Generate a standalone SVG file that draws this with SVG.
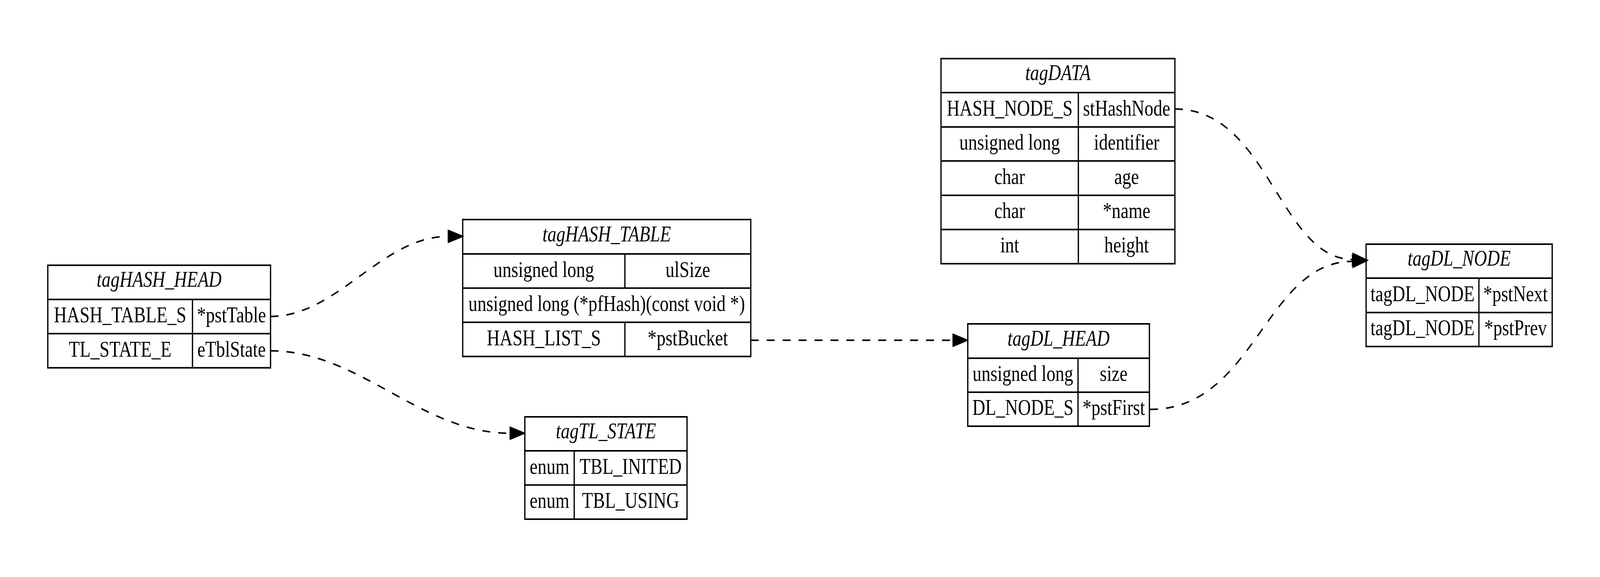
<svg xmlns="http://www.w3.org/2000/svg" width="5021" height="1477" viewBox="0 0 5021 1477" preserveAspectRatio="none">
<style>
svg{width:100vw;height:100vh}
.box{fill:none;stroke:#000;stroke-width:4}
.ln{stroke:#000;stroke-width:4}
text{font-family:"Liberation Serif","Times New Roman",serif;font-size:56px;fill:#000;text-anchor:middle}
.t{font-style:italic}
.edge{fill:none;stroke:#000;stroke-width:4;stroke-dasharray:25,25}
.ah{fill:#000;stroke:#000;stroke-width:4;stroke-linejoin:miter}
</style>
<rect width="5021" height="1477" fill="#fff"/>
<g id="tagHASH_HEAD">
<rect class="box" x="150" y="679" width="699" height="262.5"/>
<line class="ln" x1="150" y1="766.5" x2="849" y2="766.5"/>
<line class="ln" x1="150" y1="854" x2="849" y2="854"/>
<line class="ln" x1="604" y1="766.5" x2="604" y2="941.5"/>
<text class="t" x="499.5" y="734.5">tagHASH_HEAD</text>
<text x="377" y="825">HASH_TABLE_S</text>
<text x="726.5" y="825">*pstTable</text>
<text x="377" y="913">TL_STATE_E</text>
<text x="726.5" y="913">eTblState</text>
</g>
<g id="tagHASH_TABLE">
<rect class="box" x="1452" y="562" width="904" height="350.5"/>
<line class="ln" x1="1452" y1="650" x2="2356" y2="650"/>
<line class="ln" x1="1452" y1="737.5" x2="2356" y2="737.5"/>
<line class="ln" x1="1452" y1="825" x2="2356" y2="825"/>
<line class="ln" x1="1961" y1="650" x2="1961" y2="737.5"/>
<line class="ln" x1="1961" y1="825" x2="1961" y2="912.5"/>
<text class="t" x="1904" y="618">tagHASH_TABLE</text>
<text x="1706.5" y="709">unsigned long</text>
<text x="2158.5" y="709">ulSize</text>
<text x="1904" y="796">unsigned long (*pfHash)(const void *)</text>
<text x="1706.5" y="884">HASH_LIST_S</text>
<text x="2158.5" y="884">*pstBucket</text>
</g>
<g id="tagTL_STATE">
<rect class="box" x="1647" y="1067" width="509" height="262"/>
<line class="ln" x1="1647" y1="1154" x2="2156" y2="1154"/>
<line class="ln" x1="1647" y1="1241.5" x2="2156" y2="1241.5"/>
<line class="ln" x1="1802" y1="1154" x2="1802" y2="1329"/>
<text class="t" x="1901.5" y="1122.5">tagTL_STATE</text>
<text x="1724.5" y="1213">enum</text>
<text x="1979" y="1213">TBL_INITED</text>
<text x="1724.5" y="1300">enum</text>
<text x="1979" y="1300">TBL_USING</text>
</g>
<g id="tagDATA">
<rect class="box" x="2953" y="150" width="734" height="525"/>
<line class="ln" x1="2953" y1="237" x2="3687" y2="237"/>
<line class="ln" x1="2953" y1="325" x2="3687" y2="325"/>
<line class="ln" x1="2953" y1="412" x2="3687" y2="412"/>
<line class="ln" x1="2953" y1="500" x2="3687" y2="500"/>
<line class="ln" x1="2953" y1="587.5" x2="3687" y2="587.5"/>
<line class="ln" x1="3384" y1="237" x2="3384" y2="675"/>
<text class="t" x="3320" y="205.5">tagDATA</text>
<text x="3168.5" y="296">HASH_NODE_S</text>
<text x="3535.5" y="296">stHashNode</text>
<text x="3168.5" y="383.5">unsigned long</text>
<text x="3535.5" y="383.5">identifier</text>
<text x="3168.5" y="471">char</text>
<text x="3535.5" y="471">age</text>
<text x="3168.5" y="558.5">char</text>
<text x="3535.5" y="558.5">*name</text>
<text x="3168.5" y="646">int</text>
<text x="3535.5" y="646">height</text>
</g>
<g id="tagDL_HEAD">
<rect class="box" x="3037" y="829" width="570" height="262"/>
<line class="ln" x1="3037" y1="917" x2="3607" y2="917"/>
<line class="ln" x1="3037" y1="1004" x2="3607" y2="1004"/>
<line class="ln" x1="3383" y1="917" x2="3383" y2="1091"/>
<text class="t" x="3322" y="885">tagDL_HEAD</text>
<text x="3210" y="975.5">unsigned long</text>
<text x="3495" y="975.5">size</text>
<text x="3210" y="1062.5">DL_NODE_S</text>
<text x="3495" y="1062.5">*pstFirst</text>
</g>
<g id="tagDL_NODE">
<rect class="box" x="4287" y="625" width="584" height="262"/>
<line class="ln" x1="4287" y1="712" x2="4871" y2="712"/>
<line class="ln" x1="4287" y1="800" x2="4871" y2="800"/>
<line class="ln" x1="4641" y1="712" x2="4641" y2="887"/>
<text class="t" x="4579" y="680.5">tagDL_NODE</text>
<text x="4464" y="771">tagDL_NODE</text>
<text x="4756" y="771">*pstNext</text>
<text x="4464" y="858.5">tagDL_NODE</text>
<text x="4756" y="858.5">*pstPrev</text>
</g>
<g id="connectors">
<path class="edge" d="M849,810 C1059,810 1197,605 1407,605"/>
<polygon class="ah" points="1407,590 1451,605 1407,620"/>
<path class="edge" d="M849,898 C1129,898 1320,1109 1600,1109"/>
<polygon class="ah" points="1601,1094 1645,1109 1601,1124"/>
<path class="edge" d="M2356,871 L2991,871"/>
<polygon class="ah" points="2991,856 3035,871 2991,886"/>
<path class="edge" d="M3687,279 C3981,279 4016,664 4245,664"/>
<polygon class="ah" points="4246,649 4289,666 4244,679"/>
<path class="edge" d="M3609,1048 C3940,1048 3969,669 4245,669"/>
<polygon class="ah" points="4244,654 4289,667 4246,684"/>
</g>
</svg>
